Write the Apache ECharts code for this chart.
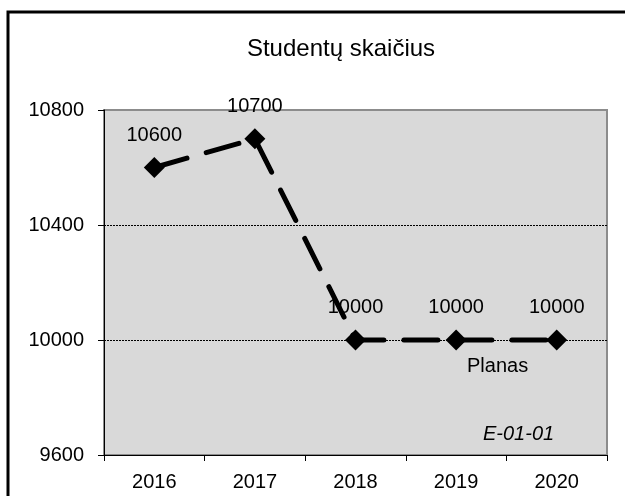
<!DOCTYPE html>
<html>
<head>
<meta charset="utf-8">
<script src="https://cdn.jsdelivr.net/npm/echarts@6/dist/echarts.min.js"></script>
<style>
  html, body { margin: 0; padding: 0; background: #fff; }
  #chart { width: 625px; height: 496px; }
</style>
</head>
<body>
<div id="chart"></div>
<script>
// data
var years = ["2016", "2017", "2018", "2019", "2020"];
var students = [10600, 10700, 10000, 10000, 10000];
var gridValues = [10400, 10000];
var yMin = 9600, yMax = 10800, yStep = 400;

var font = "'Liberation Sans', Arial, sans-serif";

var myChart = echarts.init(document.getElementById("chart"));
var option = {
  animation: false,
  backgroundColor: "#fff",
  textStyle: { fontFamily: font },
  title: {
    text: "Studentų skaičius",
    left: 336,
    top: 32,
    textAlign: "center",
    textStyle: { fontFamily: font, fontSize: 24, fontWeight: "normal", color: "#000" }
  },
  grid: {
    left: 104,
    top: 110,
    right: 18,
    bottom: 41,
    show: true,
    backgroundColor: "#D9D9D9",
    borderColor: "#8c8c8c",
    borderWidth: 2
  },
  graphic: [
    {
      type: "rect",
      shape: { x: 8, y: 12, width: 640, height: 520 },
      style: { fill: "none", stroke: "#000", lineWidth: 3 },
      silent: true
    },
    {
      type: "text",
      left: 467,
      top: 356,
      style: { text: "Planas", font: "20px " + font, fill: "#000" }
    },
    {
      type: "text",
      left: 483,
      top: 424,
      style: { text: "E-01-01", font: "italic 20px " + font, fill: "#000" }
    }
  ],
  xAxis: {
    type: "category",
    data: years,
    boundaryGap: true,
    axisLine: { lineStyle: { color: "#000", width: 1 } },
    axisTick: { show: true, length: 6, lineStyle: { color: "#000" } },
    axisLabel: { color: "#000", fontSize: 20, fontFamily: font, margin: 17 },
    splitLine: { show: false }
  },
  yAxis: {
    type: "value",
    min: yMin,
    max: yMax,
    interval: yStep,
    axisLine: { show: true, lineStyle: { color: "#000", width: 1 } },
    axisTick: { show: true, length: 6, lineStyle: { color: "#000" } },
    axisLabel: {
      color: "#000", fontSize: 20, fontFamily: font, margin: 20,
      formatter: function (v) { return String(v); }
    },
    splitLine: { show: false }
  },
  series: [
    {
      type: "line",
      data: students,
      symbol: "diamond",
      symbolSize: 21,
      itemStyle: { color: "#000" },
      lineStyle: { color: "#000", width: 5, type: [34, 20], cap: "round" },
      label: {
        show: true,
        position: "top",
        distance: 12,
        color: "#000",
        fontSize: 20,
        fontFamily: font
      },
      markLine: {
        silent: true,
        symbol: "none",
        label: { show: false },
        lineStyle: { color: "#000", width: 1, type: [2, 1] },
        data: gridValues.map(function (v) { return { yAxis: v }; }),
        z: 1
      },
      z: 3
    }
  ]
};
myChart.setOption(option);
</script>
</body>
</html>
